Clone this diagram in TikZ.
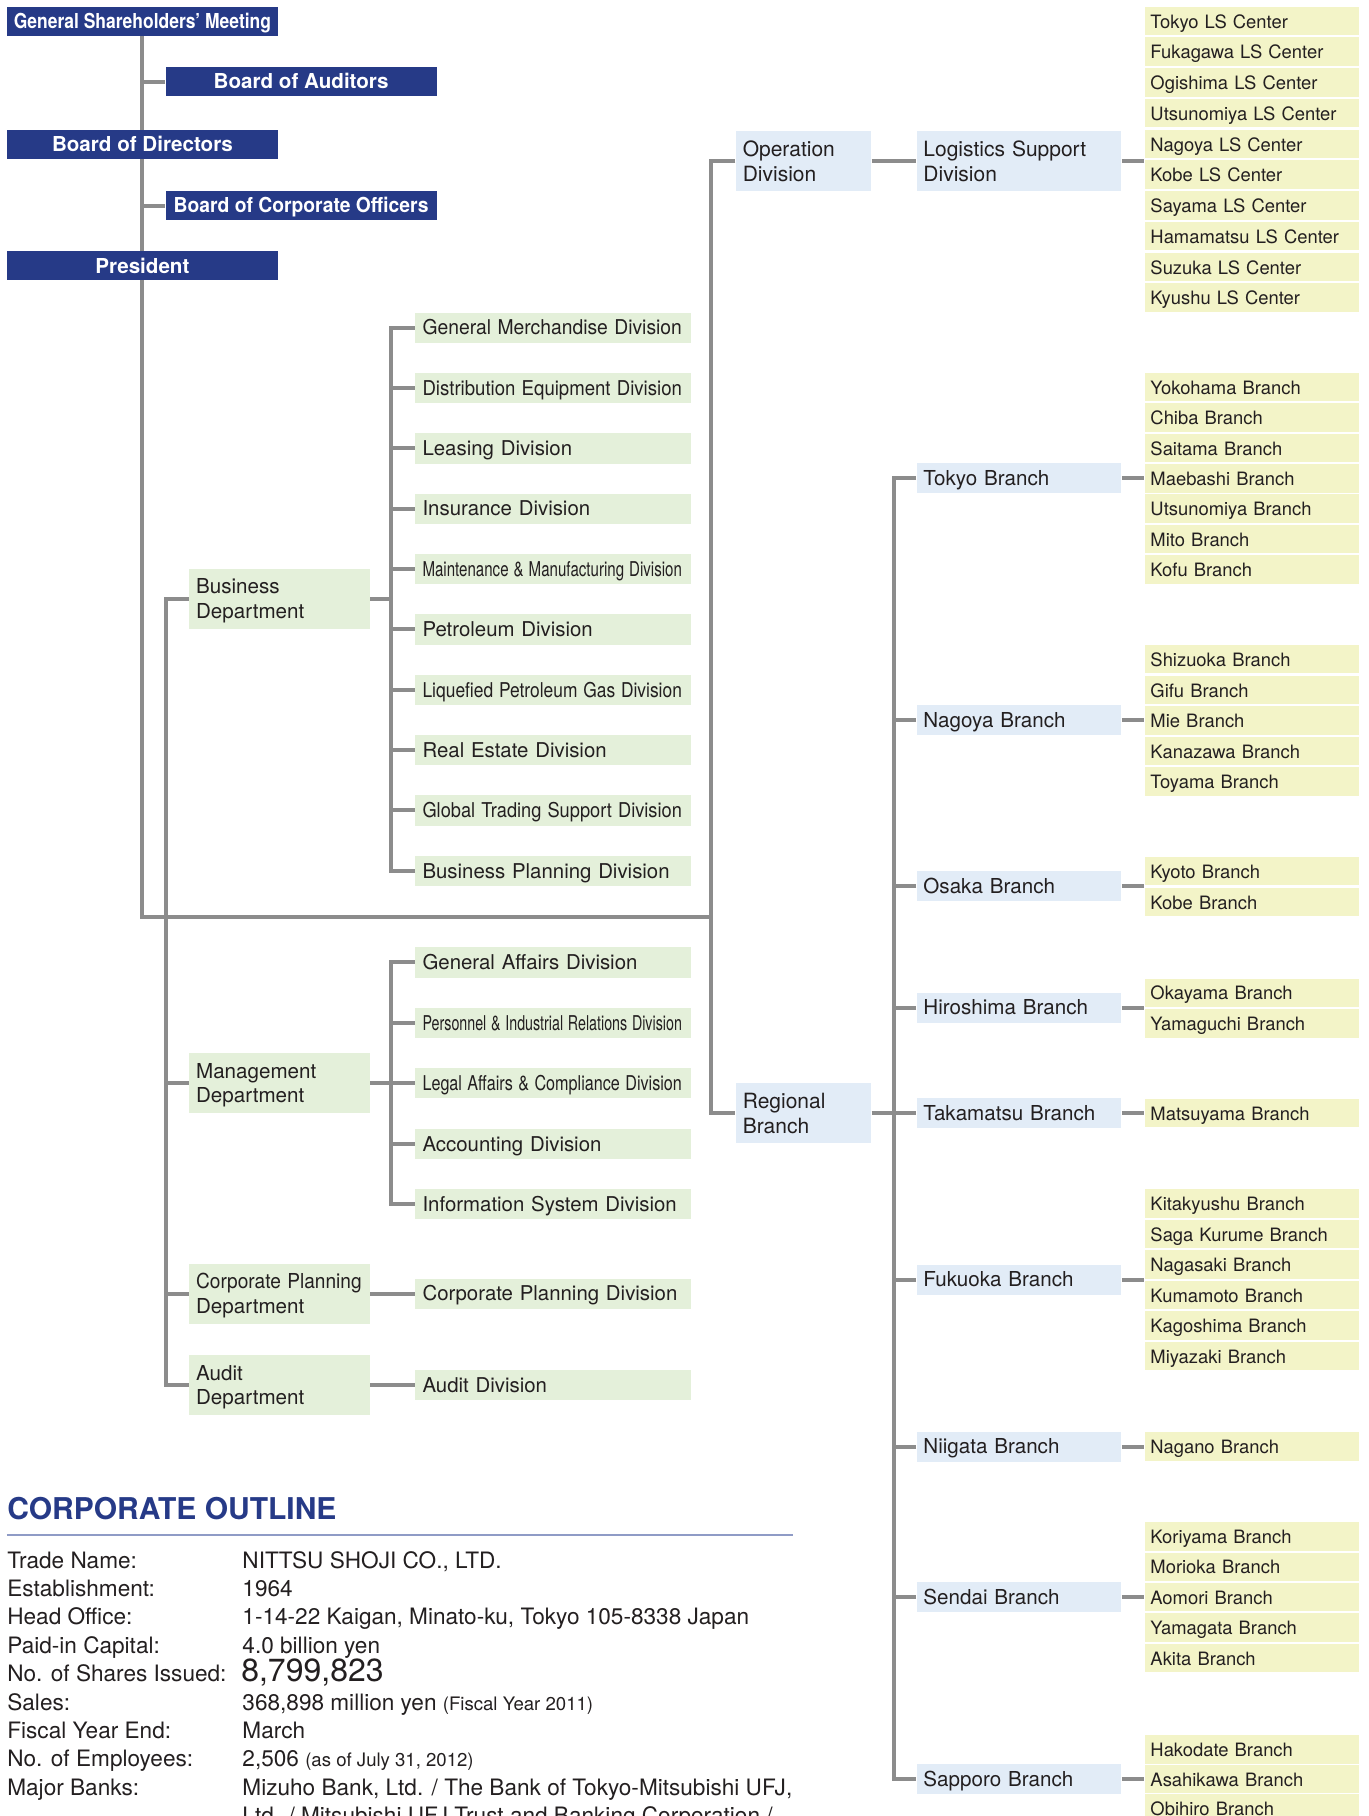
\documentclass[tikz,border=0pt]{standalone}
\usepackage{fontspec}
\setmainfont{TeX Gyre Heros}
\usepackage{graphicx}
\definecolor{dblue}{HTML}{263A87}
\definecolor{lgreen}{HTML}{E4F0DA}
\definecolor{lblue}{HTML}{E2ECF7}
\definecolor{lyellow}{HTML}{F3F4C8}
\definecolor{lgrey}{HTML}{8C8C8C}
\definecolor{ink}{HTML}{231F20}
\definecolor{rulec}{HTML}{8F9BC6}
\newcommand\fitdiv[1]{\resizebox{129.7pt}{\height}{#1}}
\newcommand\twoline[2]{\rule{0pt}{0.95em}#1\\#2\rule[-0.23em]{0pt}{0.23em}}
\pgfdeclarelayer{bg}
\pgfsetlayers{bg,main}
\begin{document}
\begin{tikzpicture}[x=0.5791pt,y=-0.5791pt,
 conn/.style={draw=lgrey, line width=2pt, line join=miter},
 one/.style={text height=0.95em, text depth=0.23em},
 dk/.style={fill=dblue, text=white, font=\fontsize{10.3}{12}\selectfont\bfseries, minimum width=135.5pt, minimum height=14.48pt, inner sep=0pt, one},
 lbox/.style={inner xsep=3.47pt, inner ysep=0pt, align=left, anchor=west, text=ink},
 dept/.style={lbox, fill=lgreen, text width=83.4pt, minimum height=30.11pt, font=\fontsize{10.3}{12.3}\selectfont},
 divb/.style={lbox, one, fill=lgreen, inner xsep=3.76pt, text width=130.3pt, minimum height=15.06pt, font=\fontsize{10.2}{12}\selectfont},
 opb/.style={lbox, fill=lblue, text width=60.8pt, minimum height=30.11pt, font=\fontsize{10.5}{12.5}\selectfont},
 lsb/.style={lbox, fill=lblue, text width=95.55pt, minimum height=30.11pt, font=\fontsize{10.5}{12.5}\selectfont},
 br/.style={lbox, one, fill=lblue, text width=95.55pt, minimum height=15.06pt, font=\fontsize{10.3}{12}\selectfont},
 sub/.style={lbox, one, fill=lyellow, inner xsep=2.9pt, text width=101.3pt, minimum height=14.19pt, font=\fontsize{9.2}{11}\selectfont},
 ol/.style={anchor=base west, inner sep=0pt, text=ink, font=\fontsize{11.3}{13}\selectfont}]
\useasboundingbox (0,0) rectangle (1182,1568);
\clip (0,0) rectangle (1182,1568);

% ---------- governance boxes ----------
\node[dk] (gsm) at (123,18.5) {\resizebox{128.6pt}{\height}{General Shareholders’ Meeting}};
\node[dk] (boa) at (260,70.5) {Board of Auditors};
\node[dk] (bod) at (123,124.5) {Board of Directors};
\node[dk] (bco) at (260,177.5) {\resizebox{127.4pt}{\height}{Board of Corporate Officers}};
\node[dk] (pres) at (123,229.5) {President};

% ---------- departments ----------
\node[dept] (bus) at (163,517) {\twoline{Business}{Department}};
\node[dept] (mgmt) at (163,935) {\twoline{Management}{Department}};
\node[dept] (cp) at (163,1117) {\twoline{\resizebox{82.8pt}{\height}{Corporate Planning}}{Department}};
\node[dept] (aud) at (163,1196) {\twoline{Audit}{Department}};

% ---------- divisions ----------
\foreach \t [count=\i from 0] in {\fitdiv{General Merchandise Division},
 \fitdiv{Distribution Equipment Division}, Leasing Division, Insurance Division,
 \fitdiv{Maintenance \& Manufacturing Division}, Petroleum Division,
 \fitdiv{Liquefied Petroleum Gas Division}, Real Estate Division,
 \fitdiv{Global Trading Support Division}, Business Planning Division}
 \node[divb] (bd\i) at (358,{283+52.1*\i}) {\t};
\foreach \t [count=\i from 0] in {General Affairs Division,
 \fitdiv{Personnel \& Industrial Relations Division},
 \fitdiv{Legal Affairs \& Compliance Division}, Accounting Division,
 Information System Division}
 \node[divb] (md\i) at (358,{831+52.2*\i}) {\t};
\node[divb] (cpd) at (358,1117) {Corporate Planning Division};
\node[divb] (audd) at (358,1196) {Audit Division};

% ---------- operation / regional ----------
\node[opb] (op) at (635,139) {\twoline{Operation}{Division}};
\node[lsb] (lsd) at (791,139) {\twoline{Logistics Support}{Division}};
\node[opb] (reg) at (635,961) {\twoline{Regional}{Branch}};

\foreach \t [count=\i from 0] in {Tokyo LS Center, Fukagawa LS Center, Ogishima LS Center,
 Utsunomiya LS Center, Nagoya LS Center, Kobe LS Center, Sayama LS Center,
 Hamamatsu LS Center, Suzuka LS Center, Kyushu LS Center}
 \node[sub] (ls\i) at (988,{18+26.55*\i}) {\t};

\node[br] (tok) at (791,413) {Tokyo Branch};
\node[br] (nag) at (791,622) {Nagoya Branch};
\node[br] (osa) at (791,765) {Osaka Branch};
\node[br] (hir) at (791,870) {Hiroshima Branch};
\node[br] (tak) at (791,961) {Takamatsu Branch};
\node[br] (fuk) at (791,1105) {Fukuoka Branch};
\node[br] (nii) at (791,1249) {Niigata Branch};
\node[br] (sen) at (791,1379) {Sendai Branch};
\node[br] (sap) at (791,1536) {Sapporo Branch};

\foreach \t [count=\i from 0] in {Yokohama Branch, Chiba Branch, Saitama Branch,
 Maebashi Branch, Utsunomiya Branch, Mito Branch, Kofu Branch}
 \node[sub] (tok\i) at (988,{413+(\i-3)*26.2}) {\t};
\foreach \t [count=\i from 0] in {Shizuoka Branch, Gifu Branch, Mie Branch,
 Kanazawa Branch, Toyama Branch}
 \node[sub] (nag\i) at (988,{622+(\i-2)*26.4}) {\t};
\foreach \t [count=\i from 0] in {Kyoto Branch, Kobe Branch}
 \node[sub] (osa\i) at (988,{765.5+(\i-0.5)*26.6}) {\t};
\foreach \t [count=\i from 0] in {Okayama Branch, Yamaguchi Branch}
 \node[sub] (hir\i) at (988,{870.5+(\i-0.5)*26.6}) {\t};
\node[sub] (tak0) at (988,961) {Matsuyama Branch};
\foreach \t [count=\i from 0] in {Kitakyushu Branch, Saga Kurume Branch, Nagasaki Branch,
 Kumamoto Branch, Kagoshima Branch, Miyazaki Branch}
 \node[sub] (fuk\i) at (988,{1105+(\i-2.5)*26.4}) {\t};
\node[sub] (nii0) at (988,1249) {Nagano Branch};
\foreach \t [count=\i from 0] in {Koriyama Branch, Morioka Branch, Aomori Branch,
 Yamagata Branch, Akita Branch}
 \node[sub] (sen\i) at (988,{1379+(\i-2)*26.2}) {\t};
\foreach \t [count=\i from 0] in {Hakodate Branch, Asahikawa Branch, Obihiro Branch}
 \node[sub] (sap\i) at (988,{1536+(\i-1)*25.6}) {\t};

% ---------- connectors (behind the boxes) ----------
\coordinate (mc) at (123,792);
\coordinate (opv) at (614,792);
\coordinate (dv) at (143,0);
\coordinate (dvv) at (338,0);
\coordinate (rv) at (772,0);

\begin{pgfonlayer}{bg}
\draw[conn] (gsm.south) -- (mc) -- (opv);
\draw[conn] (boa.west) -- (boa.west -| gsm.south);
\draw[conn] (bco.west) -- (bco.west -| gsm.south);
\draw[conn] (op.west) -- (op.west -| opv) -- (reg.west -| opv) -- (reg.west);

\draw[conn] (bus.west) -- (bus.west -| dv) -- (aud.west -| dv) -- (aud.west);
\draw[conn] (mgmt.west) -- (mgmt.west -| dv);
\draw[conn] (cp.west) -- (cp.west -| dv);

\draw[conn] (bd0.west) -- (bd0.west -| dvv) -- (bd9.west -| dvv) -- (bd9.west);
\foreach \i in {1,...,8} \draw[conn] (bd\i.west) -- (bd\i.west -| dvv);
\draw[conn] (bus.east) -- (bus.east -| dvv);
\draw[conn] (md0.west) -- (md0.west -| dvv) -- (md4.west -| dvv) -- (md4.west);
\foreach \i in {1,2,3} \draw[conn] (md\i.west) -- (md\i.west -| dvv);
\draw[conn] (mgmt.east) -- (mgmt.east -| dvv);
\draw[conn] (cp.east) -- (cpd.west);
\draw[conn] (aud.east) -- (audd.west);

\draw[conn] (op.east) -- (lsd.west);
\draw[conn] (lsd.east) -- (lsd.east -| ls0.west);

\draw[conn] (reg.east) -- (tak.west);
\draw[conn] (tok.west) -- (tok.west -| rv) -- (sap.west -| rv) -- (sap.west);
\foreach \b in {nag,osa,hir,fuk,nii,sen} \draw[conn] (\b.west) -- (\b.west -| rv);
\foreach \b in {tok,nag,osa,hir,tak,fuk,nii,sen,sap} \draw[conn] (\b.east) -- (\b.east -| \b0.west);
\end{pgfonlayer}

% ---------- corporate outline ----------
\node[anchor=base west, inner sep=0pt, text=dblue, font=\fontsize{15}{17}\selectfont\bfseries] (title) at (6,1312) {CORPORATE OUTLINE};
\draw[rulec, line width=1.1pt] (6,1325.5) -- (685,1325.5);

\node[ol] (l1) at (6,1354) {Trade Name:};
\node[ol] (l2) at (6,1378.5) {Establishment:};
\node[ol] (l3) at (6,1403) {Head Office:};
\node[ol] (l4) at (6,1427.5) {Paid-in Capital:};
\node[ol] (l5) at (6,1452) {No. of Shares Issued:};
\node[ol] (l6) at (6,1476.5) {Sales:};
\node[ol] (l7) at (6,1501) {Fiscal Year End:};
\node[ol] (l8) at (6,1525.5) {No. of Employees:};
\node[ol] (l9) at (6,1550) {Major Banks:};

\node[ol] (v1) at (209,1354) {NITTSU SHOJI CO., LTD.};
\node[ol] (v2) at (209,1378.5) {1964};
\node[ol] (v3) at (209,1403) {1-14-22 Kaigan, Minato-ku, Tokyo 105-8338 Japan};
\node[ol] (v4) at (209,1427.5) {4.0 billion yen};
\node[ol, font=\fontsize{16}{18}\selectfont] (v5) at (208,1452) {8,799,823};
\node[ol] (v6) at (209,1476.5) {368,898 million yen {\fontsize{9.3}{11}\selectfont(Fiscal Year 2011)}};
\node[ol] (v7) at (209,1501) {March};
\node[ol] (v8) at (209,1525.5) {2,506 {\fontsize{9.3}{11}\selectfont(as of July 31, 2012)}};
\node[ol] (v9) at (209,1550) {Mizuho Bank, Ltd. / The Bank of Tokyo-Mitsubishi UFJ,};
\node[ol] (v10) at (209,1574.5) {Ltd. / Mitsubishi UFJ Trust and Banking Corporation /};
\end{tikzpicture}
\end{document}
